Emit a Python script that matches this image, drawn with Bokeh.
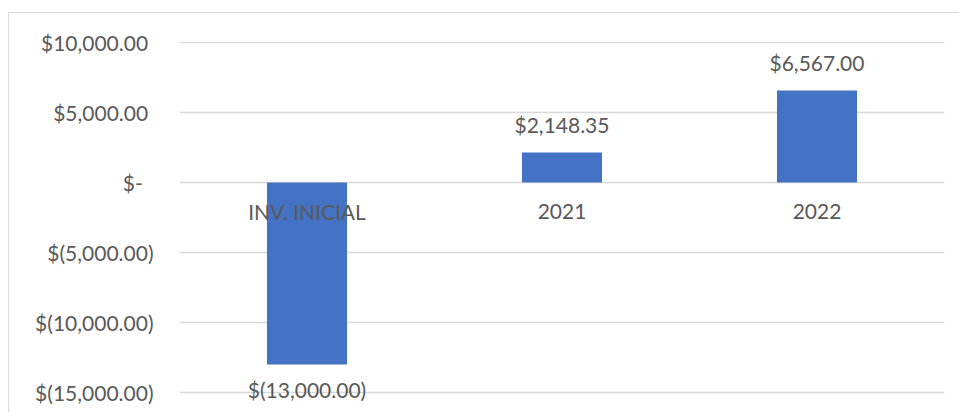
from bokeh.plotting import figure
from bokeh.models import Range1d, FixedTicker, ColumnDataSource, LabelSet
from bokeh.core.properties import value
from bokeh.embed import file_html
from bokeh.resources import INLINE

categories = ["INV. INICIAL", "2021", "2022"]
values = [-13000.00, 2148.35, 6567.00]
y_ticks = [-15000, -10000, -5000, 0, 5000, 10000]
y_min, y_max = -16500, 10071

FONT = "Lato"
TEXT = "#595959"
BAR = "#4472C4"
GRID = "#D9D9D9"


def fmt(v):
    if v < 0:
        return "$(" + f"{-v:,.2f}" + ")"
    if v == 0:
        return "$-"
    return "$" + f"{v:,.2f}"


def tick_fmt(v):
    if v < 0:
        return fmt(v)
    if v == 0:
        return fmt(v) + "\u00a0" * 2
    return fmt(v) + "\u00a0"


p = figure(
    x_range=categories,
    y_range=Range1d(y_min, y_max),
    width=951,
    height=400,
    output_backend="svg",
    toolbar_location=None,
    min_border_left=170,
    min_border_right=16,
    min_border_top=28,
    min_border_bottom=0,
)
p.margin = (12, 0, 0, 8)
p.styles = {"border-top": "1px solid #D9D9D9", "border-left": "1px solid #D9D9D9"}
p.outline_line_color = None
p.background_fill_color = "white"
p.border_fill_color = "white"

src = ColumnDataSource(dict(
    cat=categories,
    val=values,
    lab=[fmt(v) for v in values],
    off=[28 if v > 0 else -25 for v in values],
    zero=[0] * len(values),
))

p.vbar(x="cat", top="val", bottom="zero", width=0.314, source=src,
       fill_color=BAR, line_color=None)

# data labels
p.add_layout(LabelSet(x="cat", y="val", text="lab", source=src, y_offset="off",
                      text_align="center", text_baseline="middle",
                      text_font=value(FONT), text_font_size="21px", text_color=TEXT))

# category labels next to the zero line
p.add_layout(LabelSet(x="cat", y="zero", text="cat", source=src, y_offset=-29,
                      text_align="center", text_baseline="middle",
                      text_font=value(FONT), text_font_size="21px", text_color=TEXT))

p.xaxis.visible = False
p.xgrid.grid_line_color = None
p.ygrid.grid_line_color = GRID
p.ygrid.grid_line_width = 1.3

yax = p.yaxis[0]
yax.ticker = FixedTicker(ticks=y_ticks)
yax.major_label_overrides = {t: tick_fmt(t) for t in y_ticks}
yax.axis_line_color = None
yax.major_tick_line_color = None
yax.minor_tick_line_color = None
yax.major_label_standoff = 20
yax.major_label_text_font = FONT
yax.major_label_text_font_size = "21px"
yax.major_label_text_color = TEXT
p.ygrid.ticker = FixedTicker(ticks=y_ticks)

open("out.html", "w").write(file_html(p, INLINE))
